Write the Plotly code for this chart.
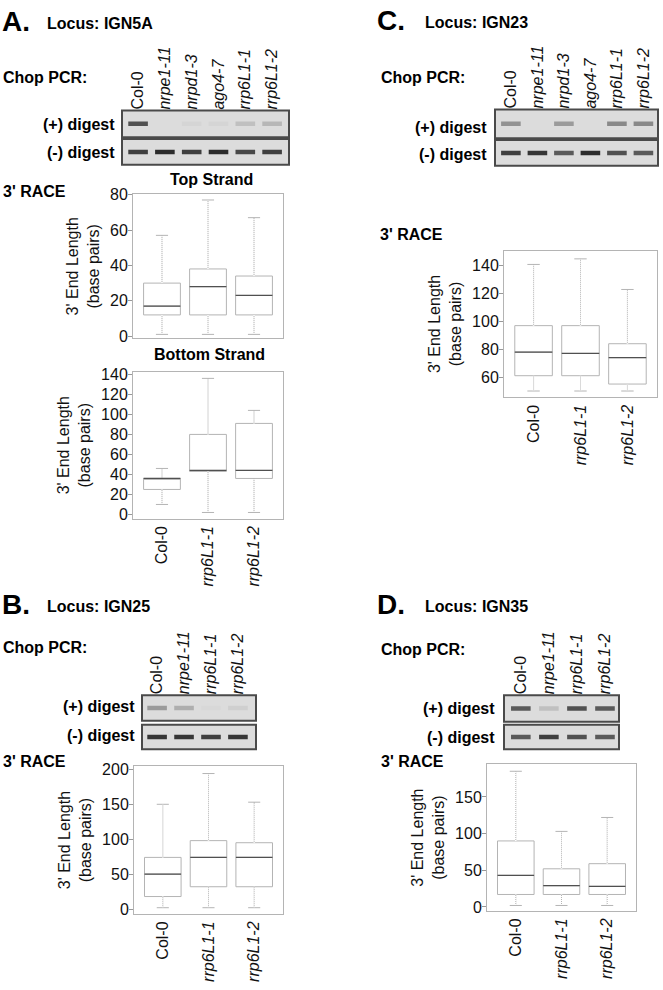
import plotly.graph_objects as go

W, H = 663, 990
FONT = "Arial, Liberation Sans, sans-serif"

# ---------------- data ----------------
lanes_6 = ["Col-0", "nrpe1-11", "nrpd1-3", "ago4-7", "rrp6L1-1", "rrp6L1-2"]
lanes_4 = ["Col-0", "nrpe1-11", "rrp6L1-1", "rrp6L1-2"]

# relative band intensities (0 = no band, 1 = strongest)
gel_A_plus = [0.75, 0.0, 0.04, 0.04, 0.15, 0.2]
gel_A_minus = [0.85, 0.95, 0.85, 0.95, 0.8, 0.85]
gel_C_plus = [0.4, 0.0, 0.35, 0.0, 0.45, 0.45]
gel_C_minus = [0.85, 0.9, 0.7, 0.95, 0.75, 0.7]
gel_B_plus = [0.35, 0.25, 0.02, 0.07]
gel_B_minus = [0.9, 0.9, 0.85, 0.9]
gel_D_plus = [0.7, 0.15, 0.75, 0.7]
gel_D_minus = [0.7, 0.85, 0.75, 0.7]

race_genotypes = ["Col-0", "rrp6L1-1", "rrp6L1-2"]

A_top_low = [1, 1, 1]
A_top_q1 = [12, 12, 12]
A_top_med = [17, 28, 23]
A_top_q3 = [30, 38, 34]
A_top_high = [57, 77, 67]

A_bot_low = [10, 2, 2]
A_bot_q1 = [25, 43, 36]
A_bot_med = [36, 44, 44]
A_bot_q3 = [36, 80, 91]
A_bot_high = [46, 136, 104]

C_low = [50, 50, 50]
C_q1 = [61, 61, 55]
C_med = [78, 77, 74]
C_q3 = [97, 97, 84]
C_high = [141, 145, 123]

B_low = [2, 2, 2]
B_q1 = [18, 32, 32]
B_med = [50, 74, 74]
B_q3 = [74, 98, 95]
B_high = [150, 194, 153]

D_low = [2, 2, 2]
D_q1 = [17, 17, 17]
D_med = [43, 29, 28]
D_q3 = [90, 52, 59]
D_high = [185, 103, 122]

# ---------------- helpers ----------------
def xd(x0, x1):
    return [x0 / W, x1 / W]


def yd(y0, y1):
    return [1 - y1 / H, 1 - y0 / H]


def fmt(label):
    return label if label == "Col-0" else "<i>" + label + "</i>"


def band_color(v):
    bg = (220, 220, 220)
    fg = (35, 35, 35)
    c = [round(bg[i] + (fg[i] - bg[i]) * v) for i in range(3)]
    return "rgb(%d,%d,%d)" % tuple(c)


fig = go.Figure()
layout = {}
shapes = []
annotations = []
BOX_GREY = "#b4b4b4"


def add_gel(n, lanes, intens, xpx, ypx, xrange, show_labels):
    ax = "" if n == 1 else str(n)
    fig.add_trace(go.Scatter(
        x=list(range(len(lanes))), y=[0.5] * len(lanes),
        mode="markers",
        marker=dict(symbol="line-ew", size=14,
                    line=dict(width=4.5, color=[band_color(v) for v in intens])),
        xaxis="x" + ax, yaxis="y" + ax, hoverinfo="skip", showlegend=False,
    ))
    layout["xaxis" + ax] = dict(
        domain=xd(*xpx), range=xrange, anchor="y" + ax,
        tickvals=list(range(len(lanes))), ticktext=[fmt(l) for l in lanes],
        side="top", tickangle=-90, showticklabels=show_labels, ticks="",
        showgrid=False, zeroline=False, showline=False,
        tickfont=dict(family=FONT, size=16, color="#111"),
    )
    layout["yaxis" + ax] = dict(domain=yd(*ypx), range=[0, 1], anchor="x" + ax,
                                visible=False)
    shapes.append(dict(type="rect", xref="x" + ax + " domain", yref="y" + ax + " domain",
                       x0=0, x1=1, y0=0, y1=1, fillcolor="#dcdcdc",
                       line=dict(color="#4a4a4a", width=2), layer="below"))


def add_box(n, low, q1, med, q3, high, xpx, ypx, yrange, yticks, show_x):
    ax = str(n)
    xs = list(range(len(race_genotypes)))
    fig.add_trace(go.Box(
        x=xs, q1=q1, median=med, q3=q3, lowerfence=low, upperfence=high,
        width=0.8, whiskerwidth=0.33, boxpoints=False,
        line=dict(color=BOX_GREY, width=1), fillcolor="rgba(0,0,0,0)",
        xaxis="x" + ax, yaxis="y" + ax, showlegend=False, hoverinfo="skip",
    ))
    # dotted appearance of the whisker stems (white gaps over the grey stem)
    wx, wy = [], []
    pad = 0.5 * (yrange[1] - yrange[0]) / 150
    for i in xs:
        wx += [i, i, None, i, i, None]
        wy += [q3[i], high[i] - pad, None, low[i] + pad, q1[i], None]
    fig.add_trace(go.Scatter(x=wx, y=wy, mode="lines",
                             line=dict(color="white", width=1.6, dash="1px,1px"),
                             xaxis="x" + ax, yaxis="y" + ax,
                             showlegend=False, hoverinfo="skip"))
    mx, my = [], []
    for i, m in enumerate(med):
        mx += [i - 0.4, i + 0.4, None]
        my += [m, m, None]
    fig.add_trace(go.Scatter(x=mx, y=my, mode="lines",
                             line=dict(color="#505050", width=1.3),
                             xaxis="x" + ax, yaxis="y" + ax,
                             showlegend=False, hoverinfo="skip"))
    layout["xaxis" + ax] = dict(
        domain=xd(*xpx), range=[-0.63, 2.63], anchor="y" + ax,
        tickvals=xs, ticktext=[fmt(g) for g in race_genotypes],
        tickangle=-90, showticklabels=show_x, ticks="",
        showline=True, mirror=True, linecolor=BOX_GREY, linewidth=1,
        showgrid=False, zeroline=False,
        tickfont=dict(family=FONT, size=16, color="#111"),
    )
    layout["yaxis" + ax] = dict(
        domain=yd(*ypx), range=yrange, anchor="x" + ax,
        tickvals=yticks, ticks="outside", ticklen=4, tickcolor="#999",
        ticklabelstandoff=-3,
        showline=True, mirror=True, linecolor=BOX_GREY, linewidth=1,
        showgrid=False, zeroline=False,
        tickfont=dict(family=FONT, size=16, color="#111"),
        title=dict(text="3' End Length<br>(base pairs)", standoff=6,
                   font=dict(family=FONT, size=16, color="#111")),
    )


def text(x, y, s, size=16, bold=True, anchor="left"):
    annotations.append(dict(
        x=x / W, y=1 - y / H, xref="paper", yref="paper",
        text=("<b>" + s + "</b>") if bold else s, showarrow=False,
        xanchor=anchor, yanchor="middle",
        font=dict(family=FONT, size=size, color="#000"),
    ))


# ---------------- panel A ----------------
add_gel(1, lanes_6, gel_A_plus, (122, 289), (104, 131), [-0.6, 5.63], True)
add_gel(2, lanes_6, gel_A_minus, (122, 289), (133, 159), [-0.6, 5.63], False)
add_box(3, A_top_low, A_top_q1, A_top_med, A_top_q3, A_top_high,
        (133, 283), (189, 335), [-1.2, 80.2], [0, 20, 40, 60, 80], False)
add_box(4, A_bot_low, A_bot_q1, A_bot_med, A_bot_q3, A_bot_high,
        (133, 283), (369, 518), [-4.2, 142.6], [0, 20, 40, 60, 80, 100, 120, 140], True)
text(0, 14, "A.", size=28)
text(45, 16, "Locus: IGN5A")
text(1, 71, "Chop PCR:")
text(117, 118, "(+) digest", anchor="right")
text(117, 147, "(-) digest", anchor="right")
text(1, 186, "3' RACE")
text(212, 174, "Top Strand", anchor="center")
text(209, 351, "Bottom Strand", anchor="center")

# ---------------- panel C ----------------
add_gel(5, lanes_6, gel_C_plus, (495, 658), (103, 132), [-0.6, 5.55], True)
add_gel(6, lanes_6, gel_C_minus, (495, 658), (134, 160), [-0.6, 5.55], False)
add_box(7, C_low, C_q1, C_med, C_q3, C_high,
        (504, 657), (246, 395), [45.4, 151], [60, 80, 100, 120, 140], True)
text(375, 13, "C.", size=28)
text(423, 15, "Locus: IGN23")
text(379, 71, "Chop PCR:")
text(489, 121, "(+) digest", anchor="right")
text(489, 149, "(-) digest", anchor="right")
text(378, 230, "3' RACE")

# ---------------- panel B ----------------
add_gel(8, lanes_4, gel_B_plus, (142, 256), (697, 723), [-0.56, 3.67], True)
add_gel(9, lanes_4, gel_B_minus, (142, 256), (727, 752), [-0.56, 3.67], False)
add_box(10, B_low, B_q1, B_med, B_q3, B_high,
        (134, 283), (769, 919), [-7, 204.6], [0, 50, 100, 150, 200], True)
text(0, 605, "B.", size=28)
text(45, 607, "Locus: IGN25")
text(1, 649, "Chop PCR:")
text(137, 709, "(+) digest", anchor="right")
text(137, 738, "(-) digest", anchor="right")
text(1, 764, "3' RACE")

# ---------------- panel D ----------------
add_gel(11, lanes_4, gel_D_plus, (504, 619), (697, 724), [-0.6, 3.5], True)
add_gel(12, lanes_4, gel_D_minus, (504, 619), (727, 752), [-0.6, 3.5], False)
add_box(13, D_low, D_q1, D_med, D_q3, D_high,
        (487, 636), (767, 916), [-5.6, 194.7], [0, 50, 100, 150], True)
text(375, 605, "D.", size=28)
text(423, 607, "Locus: IGN35")
text(379, 651, "Chop PCR:")
text(497, 711, "(+) digest", anchor="right")
text(497, 740, "(-) digest", anchor="right")
text(379, 764, "3' RACE")

fig.update_layout(
    width=W, height=H, margin=dict(l=0, r=0, t=0, b=0),
    paper_bgcolor="white", plot_bgcolor="white", showlegend=False,
    font=dict(family=FONT, size=16, color="#111"),
    shapes=shapes, annotations=annotations, **layout,
)

fig.write_html(
    "out.html",
    config={"displayModeBar": False},
    post_script="document.body.style.margin='0';document.body.style.overflow='hidden';",
)
